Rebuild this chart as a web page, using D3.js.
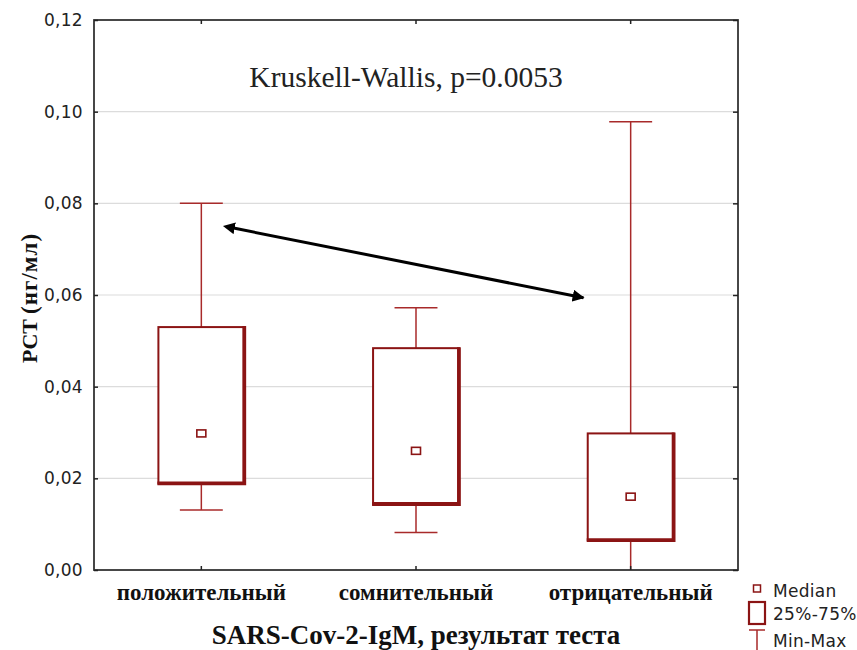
<!DOCTYPE html>
<html>
<head>
<meta charset="utf-8">
<script src="https://cdn.jsdelivr.net/npm/d3@7"></script>
<style>
  body { margin: 0; background: #fff; }
  svg { display: block; }
</style>
</head>
<body>
<div id="app"></div>
<script>
// ---------- Data ----------
const categories = ["положительный", "сомнительный", "отрицательный"];
const minVals    = [0.0131, 0.0082, 0.0];
const q1Vals     = [0.0189, 0.0144, 0.0065];
const medianVals = [0.0298, 0.0260, 0.0160];
const q3Vals     = [0.0530, 0.0484, 0.0298];
const maxVals    = [0.0800, 0.0572, 0.0978];
const yTicks     = [0, 0.02, 0.04, 0.06, 0.08, 0.10, 0.12];
// arrow ends: position in category-index units, value
const arrowPts   = [[0.15, 0.0746], [1.78, 0.0594]];

const annotation = "Kruskell-Wallis, p=0.0053";
const xTitle = "SARS-Cov-2-IgM, результат теста";

// ---------- Layout ----------
const WIDTH = 857, HEIGHT = 650;
const LEFT = 94, RIGHT = 738, TOP = 20, BOTTOM = 570;

const BOX_COLOR = "#8b1414";
const WHISKER_COLOR = "#a82a2a";
const SERIF = "'Liberation Serif', 'Times New Roman', serif";
const SANS = "'DejaVu Sans', sans-serif";

const svg = d3.select("#app").append("svg")
    .attr("width", WIDTH)
    .attr("height", HEIGHT);

// ---------- Scales ----------
const x = d3.scaleBand().domain(categories).range([LEFT, RIGHT]).padding(0);
const y = d3.scaleLinear().domain([0, 0.12]).range([BOTTOM, TOP]);
const bw = x.bandwidth();
const cx = c => x(c) + bw / 2;
const xIdx = d3.scaleLinear().domain([0, 2]).range([cx(categories[0]), cx(categories[2])]);

const boxW = bw * 0.4;
const capW = bw * 0.2;

// ---------- Grid ----------
svg.append("g")
    .selectAll("line")
    .data(yTicks.filter(d => d > 0 && d < 0.12))
    .join("line")
    .attr("x1", LEFT).attr("x2", RIGHT)
    .attr("y1", d => y(d)).attr("y2", d => y(d))
    .attr("stroke", "#dcdcdc")
    .attr("stroke-width", 1.2);

// ---------- Boxes ----------
const data = categories.map((c, i) => ({
    cat: c, min: minVals[i], q1: q1Vals[i], med: medianVals[i], q3: q3Vals[i], max: maxVals[i]
}));

const g = svg.append("g").selectAll("g").data(data).join("g");

// whiskers
g.append("line")
    .attr("x1", d => cx(d.cat)).attr("x2", d => cx(d.cat))
    .attr("y1", d => y(d.q3)).attr("y2", d => y(d.max))
    .attr("stroke", WHISKER_COLOR).attr("stroke-width", 1.5);
g.append("line")
    .attr("x1", d => cx(d.cat)).attr("x2", d => cx(d.cat))
    .attr("y1", d => y(d.q1)).attr("y2", d => y(d.min))
    .attr("stroke", WHISKER_COLOR).attr("stroke-width", 1.5);
g.filter(d => d.min > 0).append("line")
    .attr("x1", d => cx(d.cat) - capW / 2).attr("x2", d => cx(d.cat) + capW / 2)
    .attr("y1", d => y(d.min)).attr("y2", d => y(d.min))
    .attr("stroke", WHISKER_COLOR).attr("stroke-width", 1.5);
g.append("line")
    .attr("x1", d => cx(d.cat) - capW / 2).attr("x2", d => cx(d.cat) + capW / 2)
    .attr("y1", d => y(d.max)).attr("y2", d => y(d.max))
    .attr("stroke", WHISKER_COLOR).attr("stroke-width", 1.5);

// box body
g.append("rect")
    .attr("x", d => cx(d.cat) - boxW / 2)
    .attr("y", d => y(d.q3))
    .attr("width", boxW)
    .attr("height", d => y(d.q1) - y(d.q3))
    .attr("fill", "#fff")
    .attr("stroke", BOX_COLOR)
    .attr("stroke-width", 2);
// heavier bottom / right edges
g.append("path")
    .attr("d", d => {
        const xr = cx(d.cat) + boxW / 2, xl = cx(d.cat) - boxW / 2;
        return `M${xr},${y(d.q3) - 1} L${xr},${y(d.q1)} L${xl - 1},${y(d.q1)}`;
    })
    .attr("fill", "none")
    .attr("stroke", BOX_COLOR)
    .attr("stroke-width", 3.8);

// median markers
g.append("rect")
    .attr("x", d => cx(d.cat) - 4.5)
    .attr("y", d => y(d.med) - 3.5)
    .attr("width", 9).attr("height", 7)
    .attr("fill", "#fff")
    .attr("stroke", BOX_COLOR)
    .attr("stroke-width", 1.6);

// ---------- Frame & axes ----------
svg.append("rect")
    .attr("x", LEFT).attr("y", TOP)
    .attr("width", RIGHT - LEFT).attr("height", BOTTOM - TOP)
    .attr("fill", "none")
    .attr("stroke", "#333")
    .attr("stroke-width", 1.8);

const fmt = d => d.toFixed(2).replace(".", ",");

const yAxis = svg.append("g")
    .attr("transform", `translate(${LEFT},0)`)
    .call(d3.axisLeft(y).tickValues(yTicks).tickFormat(fmt).tickSizeInner(-4).tickSizeOuter(0).tickPadding(11));
yAxis.select(".domain").remove();
yAxis.selectAll("text")
    .style("font-family", SANS).style("font-size", "17px")
    .style("letter-spacing", "0.3px").attr("fill", "#222");
yAxis.selectAll("line").attr("stroke", "#222").attr("stroke-width", 1.5);

const yAxisR = svg.append("g")
    .attr("transform", `translate(${RIGHT},0)`)
    .call(d3.axisRight(y).tickValues(yTicks).tickFormat("").tickSizeInner(-5).tickSizeOuter(0));
yAxisR.select(".domain").remove();
yAxisR.selectAll("line").attr("stroke", "#222").attr("stroke-width", 1.5);

const xAxis = svg.append("g")
    .attr("transform", `translate(0,${BOTTOM})`)
    .call(d3.axisBottom(x).tickSizeInner(-4).tickSizeOuter(0));
xAxis.select(".domain").remove();
xAxis.selectAll("text")
    .attr("y", 30).attr("dy", null)
    .style("font-family", SERIF).style("font-size", "23px")
    .style("font-weight", "bold").attr("fill", "#111");
xAxis.selectAll("line").attr("stroke", "#222").attr("stroke-width", 1.5);

const xAxisT = svg.append("g")
    .attr("transform", `translate(0,${TOP})`)
    .call(d3.axisTop(x).tickFormat("").tickSizeInner(-4).tickSizeOuter(0));
xAxisT.select(".domain").remove();
xAxisT.selectAll("line").attr("stroke", "#222").attr("stroke-width", 1.5);

// ---------- Titles ----------
svg.append("text")
    .attr("x", 416)
    .attr("y", 644)
    .attr("text-anchor", "middle")
    .style("font-family", SERIF).style("font-size", "27px").style("font-weight", "bold")
    .attr("fill", "#111")
    .text(xTitle);

const yt = svg.append("text")
    .attr("transform", `translate(37, 298) rotate(-90)`)
    .attr("text-anchor", "middle")
    .style("font-family", SERIF).style("font-weight", "bold").attr("fill", "#111");
yt.append("tspan").style("font-size", "22px").text("PCT ");
yt.append("tspan").style("font-size", "23px").style("letter-spacing", "1px").text("(нг/мл)");

svg.append("text")
    .attr("x", 406).attr("y", 87)
    .attr("text-anchor", "middle")
    .style("font-family", SERIF).style("font-size", "29.5px")
    .attr("fill", "#222")
    .text(annotation);

// ---------- Arrow ----------
const defs = svg.append("defs");
["start", "end"].forEach(id => {
    defs.append("marker")
        .attr("id", "arr-" + id)
        .attr("viewBox", "0 0 10 10")
        .attr("refX", id === "end" ? 9 : 1).attr("refY", 5)
        .attr("markerWidth", 4).attr("markerHeight", 4)
        .attr("orient", "auto-start-reverse")
        .append("path")
        .attr("d", "M0,0 L10,5 L0,10 z")
        .attr("fill", "#000");
});
svg.append("line")
    .attr("x1", xIdx(arrowPts[0][0])).attr("y1", y(arrowPts[0][1]))
    .attr("x2", xIdx(arrowPts[1][0])).attr("y2", y(arrowPts[1][1]))
    .attr("stroke", "#000").attr("stroke-width", 3)
    .attr("marker-start", "url(#arr-start)")
    .attr("marker-end", "url(#arr-end)");

// ---------- Legend ----------
const lg = svg.append("g").attr("transform", "translate(757,0)");
lg.append("rect").attr("x", -3.5).attr("y", 585).attr("width", 7).attr("height", 7)
    .attr("fill", "#fff").attr("stroke", BOX_COLOR).attr("stroke-width", 1.5);
lg.append("rect").attr("x", -8).attr("y", 602).attr("width", 16).attr("height", 22)
    .attr("fill", "#fff").attr("stroke", BOX_COLOR).attr("stroke-width", 2.2);
lg.append("path").attr("d", "M-8,630 L8,630 M0,630 L0,652")
    .attr("stroke", WHISKER_COLOR).attr("stroke-width", 1.5).attr("fill", "none");
const legendLabels = ["Median", "25%-75%", "Min-Max"];
const legendY = [597, 620, 647];
lg.selectAll("text.lab").data(legendLabels).join("text")
    .attr("class", "lab")
    .attr("x", 16).attr("y", (d, i) => legendY[i])
    .style("font-family", SANS).style("font-size", "17px")
    .style("letter-spacing", "0.3px").attr("fill", "#222")
    .text(d => d);
</script>
</body>
</html>
